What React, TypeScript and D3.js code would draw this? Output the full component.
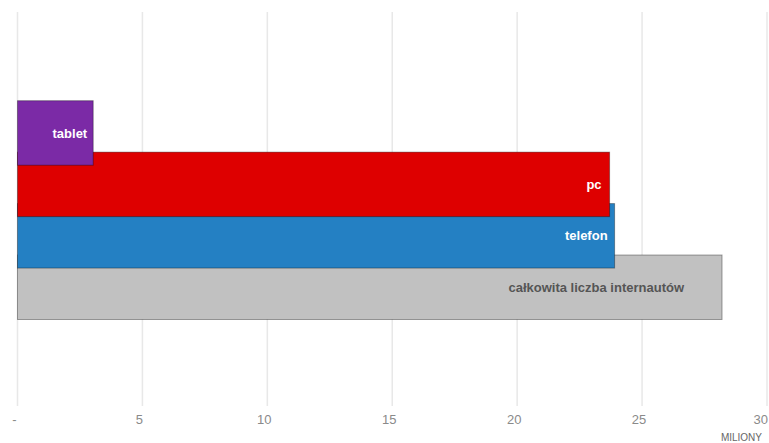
import React from "react";
import * as d3 from "d3";

const categories = ["tablet", "pc", "telefon", "całkowita liczba internautów"];
const values = [3.03, 23.7, 23.9, 28.2];
const colors = ["#7B2AA6", "#DE0000", "#2480C3", "#C1C1C1"];
const labelColors = ["#ffffff", "#ffffff", "#ffffff", "#555555"];
const labelOffsets = [6, 8, 7, 38];
const tickValues = [0, 5, 10, 15, 20, 25, 30];
const tickLabels = ["-", "5", "10", "15", "20", "25", "30"];
const unitLabel = "MILIONY";

const W = 769;
const H = 443;

export default function App() {
  const x = d3.scaleLinear().domain([0, 30]).range([17.5, 767]);
  const y = d3.scalePoint<string>().domain(categories).range([100.7, 255]);
  const barH = 64.5;
  const order = d3.range(categories.length).reverse();
  const font = "'Liberation Sans', Arial, sans-serif";

  return (
    <svg
      width={W}
      height={H}
      style={{ position: "absolute", left: 0, top: 0, background: "#fff" }}
      fontFamily={font}
    >
      {tickValues.map((t, i) => {
        const last = i === tickValues.length - 1;
        return (
          <g key={t}>
            <line
              x1={x(t)}
              x2={x(t)}
              y1={12}
              y2={406}
              stroke="#e8e8e8"
              strokeWidth={1.5}
            />
            <text
              x={last ? W - 1 : x(t) - 3}
              y={424}
              textAnchor={last ? "end" : "middle"}
              fontSize={13}
              fill="#8a8a8a"
            >
              {tickLabels[i]}
            </text>
          </g>
        );
      })}
      <text x={762} y={441} textAnchor="end" fontSize={10} fill="#666">
        {unitLabel}
      </text>
      {order.map((i) => {
        const c = categories[i];
        const y0 = y(c)!;
        return (
          <g key={c}>
            <rect
              x={x(0)}
              y={y0}
              width={x(values[i]) - x(0)}
              height={barH}
              fill={colors[i]}
              stroke="rgba(0,0,0,0.35)"
              strokeWidth={1}
            />
            <text
              x={x(values[i]) - labelOffsets[i]}
              y={y0 + barH / 2}
              dy="0.35em"
              textAnchor="end"
              fontSize={13}
              fontWeight={i === 3 ? 600 : 700}
              fill={labelColors[i]}
            >
              {c}
            </text>
          </g>
        );
      })}
    </svg>
  );
}
